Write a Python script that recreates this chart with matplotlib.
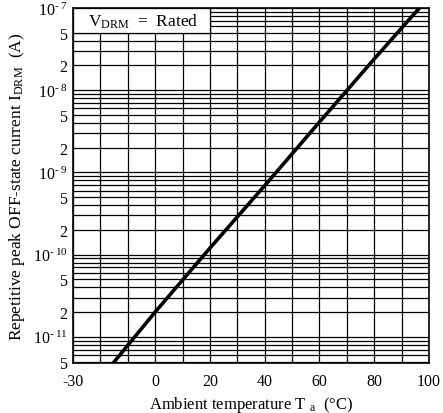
import matplotlib
matplotlib.use("Agg")
import matplotlib.pyplot as plt
from matplotlib.ticker import FixedLocator, LogLocator, NullFormatter
from matplotlib.patches import Rectangle

plt.rcParams['font.family'] = ['Liberation Serif', 'DejaVu Serif']
plt.rcParams['mathtext.fontset'] = 'custom'
plt.rcParams['mathtext.rm'] = 'Liberation Serif'
plt.rcParams['mathtext.it'] = 'Liberation Serif'
plt.rcParams['axes.unicode_minus'] = False

# curve
temp = [-16, 0, 20, 40, 60, 80, 96.5]
current = [4.5e-12, 2.0e-11, 1.2e-10, 6.9e-10, 4.1e-9, 2.4e-8, 1.0e-7]

x_ticks = [-30, 0, 20, 40, 60, 80, 100]
x_labels = ['-30', '0', '20', '40', '60', '80', '100']
y_ticks = [5e-12, 1e-11, 2e-11, 5e-11, 1e-10, 2e-10, 5e-10, 1e-9, 2e-9, 5e-9,
           1e-8, 2e-8, 5e-8, 1e-7]
y_labels = ['5', '10$^{\u2010\u200911}$', '2', '5', '10$^{\u2010\u200910}$', '2', '5',
            '10$^{\u2010\u20099}$', '2', '5', '10$^{\u2010\u20098}$', '2', '5',
            '10$^{\u2010\u20097}$']

fig = plt.figure(figsize=(4.43, 4.14), dpi=100)
ax = fig.add_axes([73 / 443, 50 / 414, 356 / 443, 355 / 414])

ax.set_yscale('log')
ax.set_xlim(-30, 100)
ax.set_ylim(4.8e-12, 1e-7)

# grid
ax.xaxis.set_major_locator(FixedLocator(x_ticks))
ax.xaxis.set_minor_locator(FixedLocator(list(range(-30, 101, 10))))
ax.set_xticklabels(x_labels)
ax.yaxis.set_major_locator(FixedLocator(y_ticks))
ax.yaxis.set_minor_locator(LogLocator(base=10, subs=(3, 4, 6, 7, 8, 9)))
ax.yaxis.set_minor_formatter(NullFormatter())
ax.set_yticklabels(y_labels)
ax.grid(True, which='both', color='black', linewidth=0.9)
ax.set_axisbelow(True)
ax.tick_params(which='both', length=0, labelsize=11.5)
ax.tick_params(axis='x', pad=7)
ax.tick_params(axis='y', pad=4)

ax.plot(temp, current, color='black', linewidth=2.6, zorder=3)

# condition box in the top-left corner
ax.add_patch(Rectangle((-30, 5e-8), 50, 5e-8, facecolor='white',
                       edgecolor='black', linewidth=0.9, zorder=4))
ax.text(-24.5, 7.0e-8, 'V$_{\\rm DRM}$  =  Rated', fontsize=12.5, va='center',
        ha='left', zorder=5)

for s in ax.spines.values():
    s.set_linewidth(1.2)

ax.set_xlabel('Ambient temperature T $_{\\rm a}$  (°C)', fontsize=12, labelpad=4)
ax.set_ylabel('Repetitive peak OFF-state current I$_{\\rm DRM}$  (A)', fontsize=12.5,
              labelpad=4)

fig.savefig('out.png', dpi=100)
